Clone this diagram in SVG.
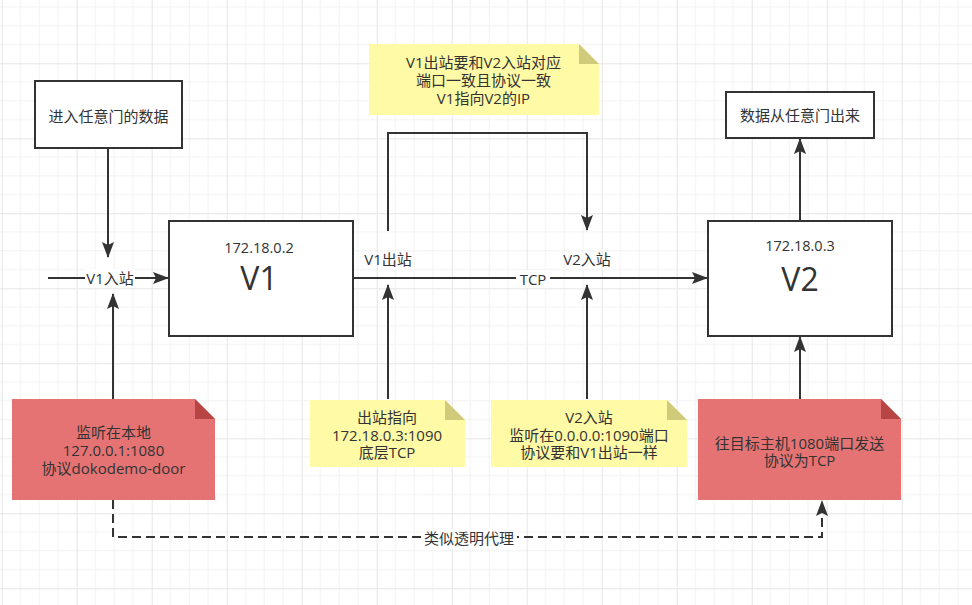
<svg xmlns="http://www.w3.org/2000/svg" width="972" height="605" viewBox="0 0 972 605">
<defs>
<pattern id="grid" patternUnits="userSpaceOnUse" x="1.7" y="-11.7" width="75" height="75">
<path d="M18.75,0V75M37.5,0V75M56.25,0V75M0,18.75H75M0,37.5H75M0,56.25H75" stroke="#f2f2f2" stroke-width="1" fill="none"/>
<path d="M0.5,0V75M0,0.5H75" stroke="#e6e6e6" stroke-width="1" fill="none"/>
</pattern>
<marker id="arr" viewBox="0 0 16 12" refX="15" refY="6" markerWidth="16" markerHeight="12" markerUnits="userSpaceOnUse" orient="auto">
<path d="M0,0L16,6L0,12L3,6Z" fill="#333"/>
</marker>
<style>
text{font-family:"Open Sans","Noto Sans CJK SC",sans-serif;fill:#333;text-anchor:middle;font-size:15px}
.box{fill:#fff;stroke:#333;stroke-width:2}
.yel{fill:#fffaa6}
.yelf{fill:#cfcb7a}
.red{fill:#e57373}
.redf{fill:#b74544}
.ln{fill:none;stroke:#333;stroke-width:2}
.lbl{fill:#fff}
.big{font-size:32px}
.ip{font-size:14.5px}
</style>
</defs>
<rect width="972" height="605" fill="#fff"/>
<rect width="972" height="605" fill="url(#grid)"/>

<g id="edges">
<path class="ln" d="M108,149V257" marker-end="url(#arr)"/>
<path class="ln" d="M113,399V294" marker-end="url(#arr)"/>
<path class="ln" d="M48,278H168" marker-end="url(#arr)"/>
<path class="ln" d="M353,278H707" marker-end="url(#arr)"/>
<path class="ln" d="M388,231V133H587V230" marker-end="url(#arr)"/>
<path class="ln" d="M388,399V285" marker-end="url(#arr)"/>
<path class="ln" d="M587,399V285" marker-end="url(#arr)"/>
<path class="ln" d="M800,221V139" marker-end="url(#arr)"/>
<path class="ln" d="M800,399V337" marker-end="url(#arr)"/>
<path class="ln" d="M113,500V537H822V501" stroke-dasharray="9 5" marker-end="url(#arr)"/>
<rect class="lbl" x="85" y="269" width="50" height="19"/>
<text x="110" y="284">V1入站</text>
<rect class="lbl" x="516" y="270" width="34" height="18"/>
<text x="533" y="285">TCP</text>
<text x="388" y="265">V1出站</text>
<text x="587" y="265">V2入站</text>
<rect class="lbl" x="421" y="529" width="96" height="20"/>
<text x="469" y="544">类似透明代理</text>
</g>

<g id="input">
<rect class="box" x="35" y="81" width="147" height="67"/>
<text x="108.5" y="122">进入任意门的数据</text>
</g>

<g id="output">
<rect class="box" x="726" y="92" width="148" height="46"/>
<text x="800" y="121">数据从任意门出来</text>
</g>

<g id="v1">
<rect class="box" x="169" y="221" width="184" height="115"/>
<text class="ip" x="259" y="252.5">172.18.0.2</text>
<text class="big" x="259" y="290">V1</text>
</g>

<g id="v2">
<rect class="box" x="708" y="221" width="184" height="115"/>
<text class="ip" x="800" y="251">172.18.0.3</text>
<text class="big" x="800" y="291">V2</text>
</g>

<g id="note-top">
<path class="yel" d="M369,44H579L599,64V115H369Z"/>
<path class="yelf" d="M579,44L599,64H579Z"/>
<text x="483.5" y="67.5">V1出站要和V2入站对应</text>
<text x="483.5" y="86">端口一致且协议一致</text>
<text x="483.5" y="104">V1指向V2的IP</text>
</g>

<g id="note-out">
<path class="yel" d="M310,400H445L465,420V467H310Z"/>
<path class="yelf" d="M445,400L465,420H445Z"/>
<text x="387" y="423">出站指向</text>
<text x="387" y="440.5">172.18.0.3:1090</text>
<text x="387" y="458">底层TCP</text>
</g>

<g id="note-in">
<path class="yel" d="M491,400H667L687,420V467H491Z"/>
<path class="yelf" d="M667,400L687,420H667Z"/>
<text x="589" y="423">V2入站</text>
<text x="589" y="440.5">监听在0.0.0.0:1090端口</text>
<text x="589" y="458">协议要和V1出站一样</text>
</g>

<g id="note-local">
<path class="red" d="M12,399H195L215,419V500H12Z"/>
<path class="redf" d="M195,399L215,419H195Z"/>
<text x="113.5" y="437.5">监听在本地</text>
<text x="113.5" y="456">127.0.0.1:1080</text>
<text x="113.5" y="474">协议dokodemo-door</text>
</g>

<g id="note-target">
<path class="red" d="M698,399H881L901,419V500H698Z"/>
<path class="redf" d="M881,399L901,419H881Z"/>
<text x="799.5" y="448.5">往目标主机1080端口发送</text>
<text x="799.5" y="465.5">协议为TCP</text>
</g>
</svg>
